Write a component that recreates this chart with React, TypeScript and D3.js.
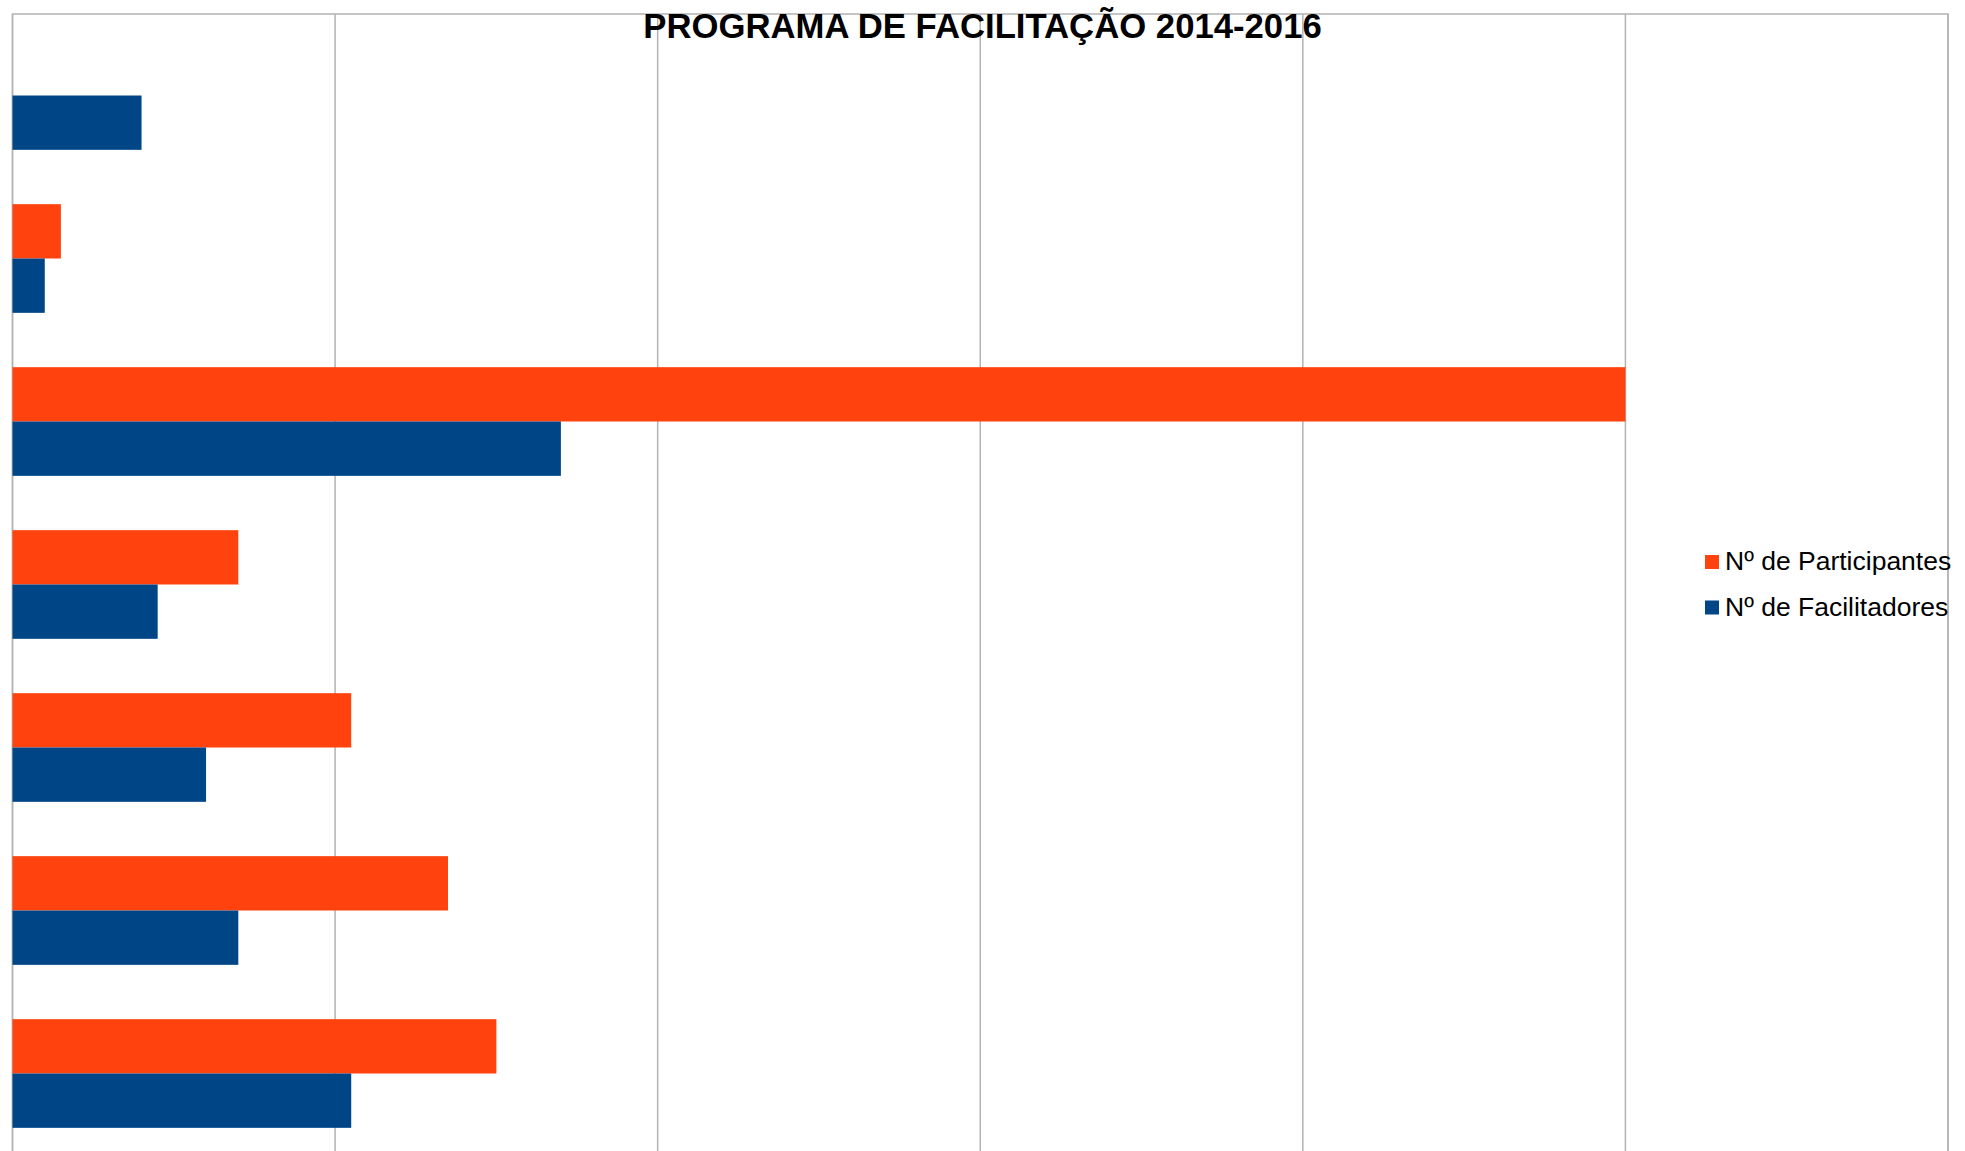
import { useEffect, useRef } from 'react'
import * as d3 from 'd3'

// categories top to bottom (axis labels are not shown in the chart)
const categories = ['A', 'B', 'C', 'D', 'E', 'F', 'G']
const participantes = [0, 3, 100, 14, 21, 27, 30]
const facilitadores = [8, 2, 34, 9, 12, 14, 21]
const seriesNames = ['Nº de Participantes', 'Nº de Facilitadores']
const seriesColors = ['#ff420e', '#004586']
const xTicks = [0, 20, 40, 60, 80, 100, 120]

const W = 1965
const H = 1151

export default function App(): JSX.Element {
  const ref = useRef<SVGSVGElement>(null)

  useEffect(() => {
    const svg = d3.select(ref.current)
    svg.selectAll('*').remove()

    const left = 12.5, right = 1948, top = 14
    const step = 163
    const bottom = top + step * categories.length

    const x = d3.scaleLinear().domain([0, 120]).range([left, right])
    const y = d3.scaleBand<string>().domain(categories).range([top, bottom])
      .paddingInner(1 / 3).paddingOuter(1 / 6)
    const ySub = d3.scaleBand<string>().domain(seriesNames).range([0, y.bandwidth()])

    // gridlines + frame
    svg.append('g').selectAll('line').data(xTicks).join('line')
      .attr('x1', d => x(d)).attr('x2', d => x(d))
      .attr('y1', top).attr('y2', bottom)
      .attr('stroke', '#b3b3b3').attr('stroke-width', 1.5)
    svg.append('rect')
      .attr('x', left).attr('y', top).attr('width', right - left).attr('height', bottom - top)
      .attr('fill', 'none').attr('stroke', '#b3b3b3').attr('stroke-width', 1.5)

    const rows = categories.map((c, i) => ({ c, vals: [participantes[i], facilitadores[i]] }))
    const gRows = svg.append('g').selectAll('g').data(rows).join('g')
      .attr('transform', d => `translate(0,${y(d.c)})`)
    gRows.selectAll('rect').data(d => d.vals.map((v, j) => ({ v, j }))).join('rect')
      .attr('x', x(0))
      .attr('y', d => ySub(seriesNames[d.j]) as number)
      .attr('width', d => x(d.v) - x(0))
      .attr('height', ySub.bandwidth())
      .attr('fill', d => seriesColors[d.j])

    svg.append('text')
      .attr('x', W / 2).attr('y', 37.5)
      .attr('text-anchor', 'middle')
      .attr('font-family', '"Liberation Sans", Arial, sans-serif')
      .attr('font-weight', 'bold').attr('font-size', 34.7)
      .text('PROGRAMA DE FACILITAÇÃO 2014-2016')

    const legend = svg.append('g').selectAll('g').data(seriesNames).join('g')
      .attr('transform', (_d, i) => `translate(1705,${555 + i * 45.5})`)
    legend.append('rect').attr('width', 14).attr('height', 14)
      .attr('fill', (_d, i) => seriesColors[i])
    legend.append('text').attr('x', 20).attr('y', 15)
      .attr('font-family', '"Liberation Sans", Arial, sans-serif')
      .attr('font-size', 26.5)
      .text(d => d)
  }, [])

  return (
    <svg ref={ref} width={W} height={H}
      style={{ position: 'absolute', left: 0, top: 0, background: '#fff' }} />
  )
}
